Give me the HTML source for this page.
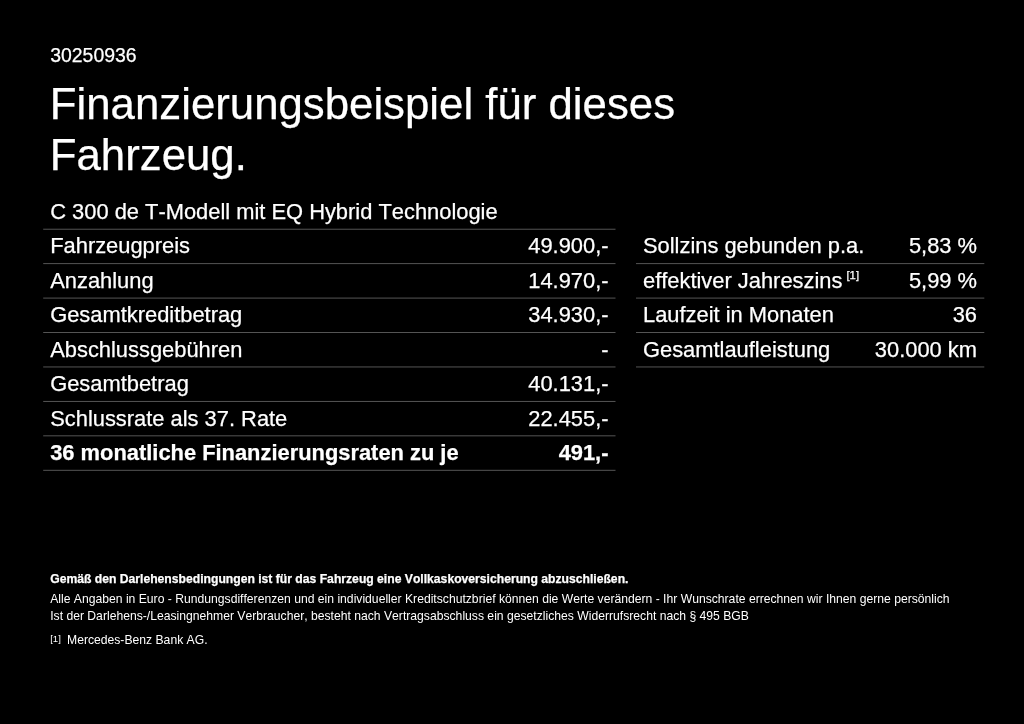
<!DOCTYPE html>
<html lang="de"><head><meta charset="utf-8"><title>Finanzierungsbeispiel</title>
<style>
html,body{margin:0;padding:0;background:#000;}
body{width:1024px;height:724px;position:relative;overflow:hidden;color:#fff;font-family:"Liberation Sans",Arial,Helvetica,sans-serif;}
.t{position:absolute;white-space:nowrap;line-height:1;font-kerning:none;font-variant-ligatures:none;-webkit-text-stroke:0.25px #fff;}
.lines{position:absolute;left:0;top:0;fill:#5e5e5e;}
.b{font-weight:bold;}
.f{-webkit-text-stroke:0;}
sup{font-size:11.3px;line-height:0;vertical-align:baseline;position:relative;top:-9.5px;margin-left:-2px;}
</style></head><body>
<svg class="lines" width="1024" height="724" viewBox="0 0 1024 724"><rect x="43.20" y="228.75" width="572.30" height="0.9"/><rect x="43.20" y="263.19" width="572.30" height="0.9"/><rect x="43.20" y="297.63" width="572.30" height="0.9"/><rect x="43.20" y="332.07" width="572.30" height="0.9"/><rect x="43.20" y="366.51" width="572.30" height="0.9"/><rect x="43.20" y="400.95" width="572.30" height="0.9"/><rect x="43.20" y="435.39" width="572.30" height="0.9"/><rect x="43.20" y="469.83" width="572.30" height="0.9"/><rect x="636.00" y="263.19" width="348.30" height="0.9"/><rect x="636.00" y="297.63" width="348.30" height="0.9"/><rect x="636.00" y="332.07" width="348.30" height="0.9"/><rect x="636.00" y="366.51" width="348.30" height="0.9"/></svg>
<div class="t" style="left:50.20px;top:46px;font-size:19.46px;">30250936</div>
<div class="t" style="left:49.80px;top:82px;font-size:43.78px;">Finanzierungsbeispiel für dieses</div>
<div class="t" style="left:49.80px;top:133px;font-size:43.78px;">Fahrzeug.</div>
<div class="t" style="left:50.20px;top:201px;font-size:21.89px;">C 300 de T-Modell mit EQ Hybrid Technologie</div>
<div class="t" style="left:50.20px;top:235px;font-size:21.89px;">Fahrzeugpreis</div>
<div class="t" style="right:415.50px;top:235px;font-size:21.89px;">49.900,-</div>
<div class="t" style="left:50.20px;top:270px;font-size:21.89px;">Anzahlung</div>
<div class="t" style="right:415.50px;top:270px;font-size:21.89px;">14.970,-</div>
<div class="t" style="left:50.20px;top:304px;font-size:21.89px;">Gesamtkreditbetrag</div>
<div class="t" style="right:415.50px;top:304px;font-size:21.89px;">34.930,-</div>
<div class="t" style="left:50.20px;top:339px;font-size:21.89px;">Abschlussgebühren</div>
<div class="t" style="right:415.50px;top:339px;font-size:21.89px;">-</div>
<div class="t" style="left:50.20px;top:373px;font-size:21.89px;">Gesamtbetrag</div>
<div class="t" style="right:415.50px;top:373px;font-size:21.89px;">40.131,-</div>
<div class="t" style="left:50.20px;top:408px;font-size:21.89px;">Schlussrate als 37. Rate</div>
<div class="t" style="right:415.50px;top:408px;font-size:21.89px;">22.455,-</div>
<div class="t b" style="left:50.20px;top:442px;font-size:21.89px;">36 monatliche Finanzierungsraten zu je</div>
<div class="t b" style="right:415.50px;top:442px;font-size:21.89px;">491,-</div>
<div class="t" style="left:643.00px;top:235px;font-size:21.89px;">Sollzins gebunden p.a.</div>
<div class="t" style="right:47.00px;top:235px;font-size:21.89px;">5,83 %</div>
<div class="t" style="left:643.00px;top:270px;font-size:21.89px;">effektiver Jahreszins <sup>[1]</sup></div>
<div class="t" style="right:47.00px;top:270px;font-size:21.89px;">5,99 %</div>
<div class="t" style="left:643.00px;top:304px;font-size:21.89px;">Laufzeit in Monaten</div>
<div class="t" style="right:47.00px;top:304px;font-size:21.89px;">36</div>
<div class="t" style="left:643.00px;top:339px;font-size:21.89px;">Gesamtlaufleistung</div>
<div class="t" style="right:47.00px;top:339px;font-size:21.89px;">30.000 km</div>
<div class="t b" style="left:50.20px;top:573px;font-size:12.16px;">Gemäß den Darlehensbedingungen ist für das Fahrzeug eine Vollkaskoversicherung abzuschließen.</div>
<div class="t f" style="left:50.20px;top:593px;font-size:12.16px;">Alle Angaben in Euro - Rundungsdifferenzen und ein individueller Kreditschutzbrief können die Werte verändern - Ihr Wunschrate errechnen wir Ihnen gerne persönlich</div>
<div class="t f" style="left:50.20px;top:610px;font-size:12.16px;">Ist der Darlehens-/Leasingnehmer Verbraucher, besteht nach Vertragsabschluss ein gesetzliches Widerrufsrecht nach § 495 BGB</div>
<div class="t f" style="left:50.20px;top:634px;font-size:9.6px;">[1]</div>
<div class="t f" style="left:67.00px;top:634px;font-size:12.16px;">Mercedes-Benz Bank AG.</div>
</body></html>
